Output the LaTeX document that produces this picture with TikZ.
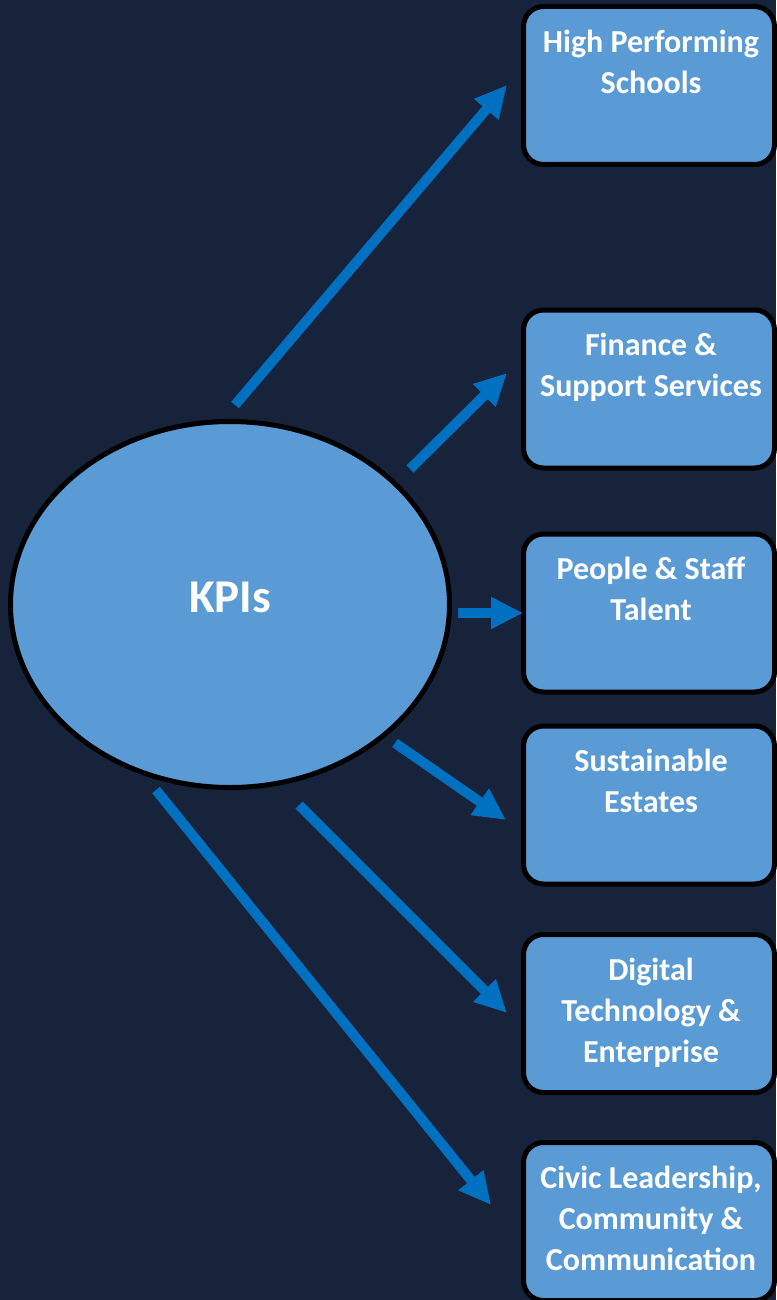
\documentclass[tikz,border=0pt]{standalone}
\usepackage{fontspec}
\setmainfont{Carlito}
\usetikzlibrary{arrows.meta,shapes.geometric}
\definecolor{bgnavy}{HTML}{16233A}
\definecolor{boxblue}{HTML}{5B9BD5}
\definecolor{arrowblue}{HTML}{0070C0}
\tikzset{
  kpibox/.style={draw=black, line width=5pt, fill=boxblue, rounded corners=20pt,
    minimum width=251pt, minimum height=158pt, inner sep=0pt},
  boxlabel/.style={anchor=north, inner sep=0pt, align=center, text=white,
    font=\fontsize{32}{41}\selectfont\bfseries},
  kpiarrow/.style={draw=arrowblue, line width=10pt,
    -{Triangle[length=32pt,width=30pt]}},
}
\newcommand{\fs}{\strut}
\begin{document}
\begin{tikzpicture}[x=1pt,y=-1pt]
\fill[bgnavy] (0,0) rectangle (776,1300);
\useasboundingbox (0,0) rectangle (776,1300);

\node[ellipse, draw=black, line width=5pt, fill=boxblue, minimum width=439pt,
  minimum height=366pt, inner sep=0pt, text=white,
  font=\fontsize{47}{58}\selectfont\bfseries, text height=32pt, text depth=16pt]
  (kpi) at (230,604.5) {KPIs};

\node[kpibox] (b1) at (649,85.5) {};
\node[kpibox] (b2) at (649,389) {};
\node[kpibox] (b3) at (649,613) {};
\node[kpibox] (b4) at (649,805) {};
\node[kpibox] (b5) at (649,1013.5) {};
\node[kpibox] (b6) at (649,1221.5) {};

\node[boxlabel] (t1) at ([xshift=2pt,yshift=-19.5pt]b1.north) {\fs High Performing\\Schools};
\node[boxlabel] (t2) at ([xshift=2pt,yshift=-19.5pt]b2.north) {\fs Finance \&\\Support Services};
\node[boxlabel] (t3) at ([xshift=2pt,yshift=-19.5pt]b3.north) {\fs People \& Staff\\Talent};
\node[boxlabel] (t4) at ([xshift=2pt,yshift=-19.5pt]b4.north) {\fs Sustainable\\Estates};
\node[boxlabel] (t5) at ([xshift=2pt,yshift=-19.5pt]b5.north) {\fs Digital\\Technology \&\\Enterprise};
\node[boxlabel] (t6) at ([xshift=2pt,yshift=-19.5pt]b6.north) {\fs Civic Leadership,\\Community \&\\Communication};

\coordinate (s1) at (235,405);  \coordinate (e1) at (507,85);
\coordinate (s2) at (410,469);  \coordinate (e2) at (507,373);
\coordinate (s3) at (458,613);  \coordinate (e3) at (523,613);
\coordinate (s4) at (395,743);  \coordinate (e4) at (506,820);
\coordinate (s5) at (299,805);  \coordinate (e5) at (507,1013);
\coordinate (s6) at (156,790);  \coordinate (e6) at (491,1205);

\draw[kpiarrow] (s1) -- (e1);
\draw[kpiarrow] (s2) -- (e2);
\draw[kpiarrow] (s3) -- (e3);
\draw[kpiarrow] (s4) -- (e4);
\draw[kpiarrow] (s5) -- (e5);
\draw[kpiarrow] (s6) -- (e6);
\end{tikzpicture}
\end{document}
